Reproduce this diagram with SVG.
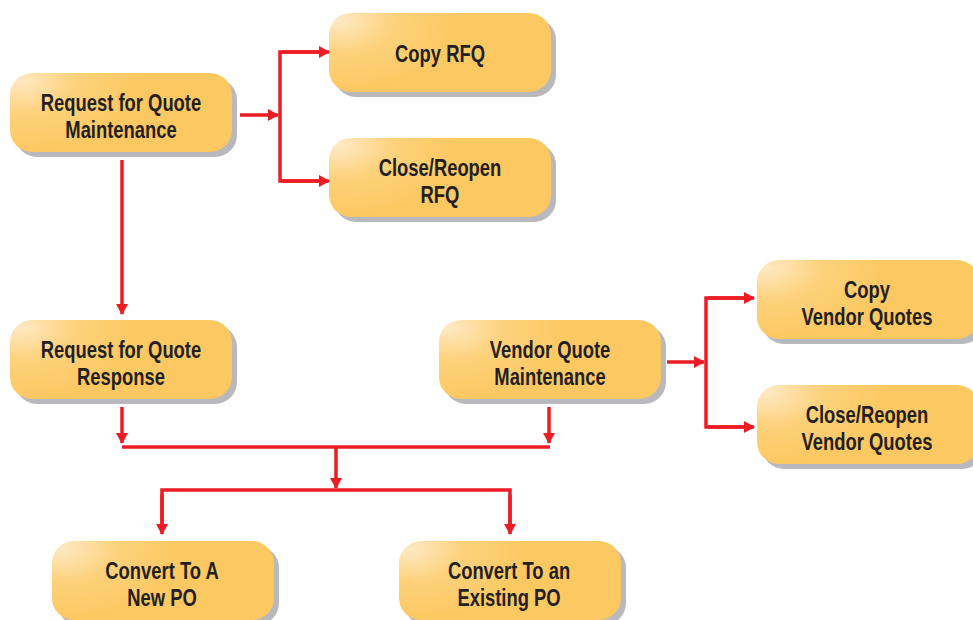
<svg xmlns="http://www.w3.org/2000/svg" width="973" height="620" viewBox="0 0 973 620">
<defs>
<radialGradient id="g" cx="0.08" cy="0.1" r="0.9" gradientTransform="scale(0.6,1)">
<stop offset="0" stop-color="#fee9c4"/>
<stop offset="0.45" stop-color="#fdd27c"/>
<stop offset="1" stop-color="#fcc861"/>
</radialGradient>
<marker id="ah" viewBox="0 0 11 12" refX="10" refY="6" markerWidth="11" markerHeight="12" markerUnits="userSpaceOnUse" orient="auto">
<path d="M0,0 L11,6 L0,12 Z" fill="#ed1c24"/>
</marker>
</defs>
<style>
.sh{fill:#b8b8bd}
.bx{fill:url(#g)}
.t{font-family:"Liberation Sans",Arial,sans-serif;font-weight:bold;font-size:23px;fill:#231f20;text-anchor:middle}
.c{stroke:#ed1c24;stroke-width:3.5;fill:none}
.a{marker-end:url(#ah)}
</style>
<rect width="973" height="620" fill="#ffffff"/>
<g id="n1">
<rect class="sh" x="15" y="78" width="222" height="79" rx="22"/>
<rect class="bx" x="10" y="73" width="222" height="79" rx="22"/>
<text class="t" transform="translate(121,111) scale(0.8,1)">Request for Quote</text>
<text class="t" transform="translate(121,138) scale(0.8,1)">Maintenance</text>
</g>
<g id="n2">
<rect class="sh" x="334" y="18" width="222" height="79" rx="22"/>
<rect class="bx" x="329" y="13" width="222" height="79" rx="22"/>
<text class="t" transform="translate(440,62) scale(0.8,1)">Copy RFQ</text>
</g>
<g id="n3">
<rect class="sh" x="334" y="143" width="222" height="79" rx="22"/>
<rect class="bx" x="329" y="138" width="222" height="79" rx="22"/>
<text class="t" transform="translate(440,176) scale(0.8,1)">Close/Reopen</text>
<text class="t" transform="translate(440,203) scale(0.8,1)">RFQ</text>
</g>
<g id="n4">
<rect class="sh" x="15" y="325" width="222" height="79" rx="22"/>
<rect class="bx" x="10" y="320" width="222" height="79" rx="22"/>
<text class="t" transform="translate(121,358) scale(0.8,1)">Request for Quote</text>
<text class="t" transform="translate(121,385) scale(0.8,1)">Response</text>
</g>
<g id="n5">
<rect class="sh" x="444" y="325" width="222" height="79" rx="22"/>
<rect class="bx" x="439" y="320" width="222" height="79" rx="22"/>
<text class="t" transform="translate(550,358) scale(0.8,1)">Vendor Quote</text>
<text class="t" transform="translate(550,385) scale(0.8,1)">Maintenance</text>
</g>
<g id="n6">
<rect class="sh" x="762" y="265" width="222" height="79" rx="22"/>
<rect class="bx" x="757" y="260" width="222" height="79" rx="22"/>
<text class="t" transform="translate(867,298) scale(0.8,1)">Copy</text>
<text class="t" transform="translate(867,325) scale(0.8,1)">Vendor Quotes</text>
</g>
<g id="n7">
<rect class="sh" x="762" y="390" width="222" height="79" rx="22"/>
<rect class="bx" x="757" y="385" width="222" height="79" rx="22"/>
<text class="t" transform="translate(867,423) scale(0.8,1)">Close/Reopen</text>
<text class="t" transform="translate(867,450) scale(0.8,1)">Vendor Quotes</text>
</g>
<g id="n8">
<rect class="sh" x="57" y="546" width="222" height="79" rx="22"/>
<rect class="bx" x="52" y="541" width="222" height="79" rx="22"/>
<text class="t" transform="translate(162,579) scale(0.8,1)">Convert To A</text>
<text class="t" transform="translate(162,606) scale(0.8,1)">New PO</text>
</g>
<g id="n9">
<rect class="sh" x="404" y="546" width="222" height="79" rx="22"/>
<rect class="bx" x="399" y="541" width="222" height="79" rx="22"/>
<text class="t" transform="translate(509,579) scale(0.8,1)">Convert To an</text>
<text class="t" transform="translate(509,606) scale(0.8,1)">Existing PO</text>
</g>
<g id="connectors">
<path class="c a" d="M240,115 H278"/>
<path class="c" d="M327,52 H280 V181 H327"/>
<path class="c a" d="M282,52 H329"/>
<path class="c a" d="M282,181 H329"/>
<path class="c a" d="M122,160 V314"/>
<path class="c a" d="M667,362 H704"/>
<path class="c" d="M752,298 H706 V427 H752"/>
<path class="c a" d="M708,298 H754"/>
<path class="c a" d="M708,427 H754"/>
<path class="c a" d="M122,407 V443"/>
<path class="c a" d="M549,407 V443"/>
<path class="c" d="M122,447 H550"/>
<path class="c a" d="M336,447 V488"/>
<path class="c" d="M162,531 V490 H510 V531"/>
<path class="c a" d="M162,495 V534"/>
<path class="c a" d="M510,495 V534"/>
</g>
</svg>
